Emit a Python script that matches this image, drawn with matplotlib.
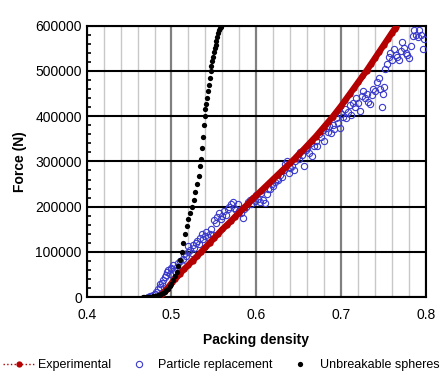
import matplotlib
matplotlib.use('Agg')
import matplotlib.pyplot as plt
import numpy as np
from matplotlib.ticker import MultipleLocator

plt.rcParams['font.family'] = ['Liberation Sans', 'DejaVu Sans']

# Experimental (packing density, force in kN)
exp_x = [0.483, 0.486, 0.489, 0.492, 0.495, 0.498, 0.501, 0.504, 0.507, 0.510,
         0.515, 0.520, 0.525, 0.530, 0.535, 0.540, 0.545, 0.550, 0.555, 0.560,
         0.565, 0.570, 0.575, 0.580, 0.585, 0.590, 0.595, 0.600, 0.605, 0.610,
         0.615, 0.620, 0.625, 0.630, 0.635, 0.640, 0.645, 0.650, 0.655, 0.660,
         0.665, 0.670, 0.675, 0.680, 0.685, 0.690, 0.695, 0.700, 0.705, 0.710,
         0.715, 0.720, 0.725, 0.730, 0.735, 0.740, 0.745, 0.750, 0.755, 0.760,
         0.763, 0.765]
exp_k = [0, 2, 7, 13, 19, 26, 33, 40, 46, 52,
         62, 71, 81, 90, 100, 110, 120, 130, 140, 150,
         159, 168, 178, 187, 197, 206, 216, 225, 234, 243,
         252, 261, 270, 279, 288, 297, 306, 316, 325, 335,
         345, 355, 366, 377, 388, 399, 411, 423, 436, 449,
         462, 475, 488, 501, 515, 529, 543, 557, 571, 585,
         593, 598]

# Particle replacement
pr_x = [0.472, 0.475, 0.478, 0.480, 0.482, 0.484, 0.486, 0.487, 0.489, 0.490,
        0.492, 0.493, 0.495, 0.496, 0.498, 0.499, 0.500,
        0.502, 0.504, 0.506, 0.508, 0.510, 0.512, 0.514, 0.515, 0.517, 0.519,
        0.520, 0.522, 0.524, 0.525, 0.527, 0.529, 0.530, 0.532, 0.534, 0.536,
        0.537, 0.539, 0.541, 0.543, 0.545, 0.547, 0.549,
        0.550, 0.552, 0.554, 0.556, 0.558, 0.560, 0.562, 0.564, 0.566, 0.568,
        0.570, 0.572, 0.574, 0.576, 0.578, 0.580, 0.582, 0.584, 0.586, 0.588,
        0.590, 0.592, 0.594, 0.596, 0.598,
        0.600, 0.602, 0.604, 0.606, 0.608, 0.610, 0.612, 0.614, 0.616, 0.618,
        0.620, 0.622, 0.624, 0.626, 0.628, 0.630, 0.632, 0.634, 0.636, 0.638,
        0.640, 0.642, 0.644, 0.646, 0.648,
        0.650, 0.652, 0.654, 0.656, 0.658, 0.660, 0.662, 0.664, 0.666, 0.668,
        0.670, 0.672, 0.674, 0.676, 0.678, 0.680, 0.682, 0.684, 0.686, 0.688,
        0.690, 0.692, 0.694, 0.696, 0.698,
        0.700, 0.702, 0.704, 0.706, 0.708, 0.710, 0.712, 0.714, 0.716, 0.718,
        0.720, 0.722, 0.724, 0.726, 0.728, 0.730, 0.732, 0.734, 0.736, 0.738,
        0.740, 0.742, 0.744, 0.746, 0.748, 0.749,
        0.750, 0.752, 0.754, 0.756, 0.758, 0.760, 0.762, 0.764, 0.766, 0.768,
        0.770, 0.772, 0.774, 0.776, 0.778, 0.780, 0.782, 0.784, 0.786, 0.788,
        0.790, 0.792, 0.794, 0.796, 0.798]
pr_k = [0, 2, 5, 8, 12, 18, 22, 28, 32, 38,
        45, 50, 55, 60, 52, 65, 62,
        70, 58, 66, 75, 80, 72, 85, 95, 90, 100,
        112, 105, 98, 115, 108, 120, 125, 118, 130, 140,
        128, 135, 145, 132, 140, 150, 138,
        170, 165, 178, 185, 172, 180, 190, 182, 195, 200,
        205, 210, 198, 192, 205, 190, 185, 175, 195, 200,
        210, 215, 205, 220, 212,
        225, 218, 210, 230, 215, 208, 228, 240, 238, 250,
        245, 255, 262, 258, 270, 265, 280, 295, 300, 275,
        285, 290, 280, 300, 310,
        305, 320, 315, 290, 325, 330, 318, 340, 312, 335,
        345, 335, 360, 355, 370, 345, 375, 365, 378, 362,
        380, 372, 395, 385, 375,
        405, 398, 415, 395, 410, 425, 402, 430, 420, 440,
        430, 412, 445, 455, 440, 450, 432, 428, 448, 460,
        455, 475, 485, 460, 420, 450,
        465, 505, 515, 530, 540, 525, 548, 535, 530, 525,
        545, 565, 550, 540, 535, 528, 555, 578, 590, 580,
        575, 590, 580, 548, 570]

# Unbreakable spheres
ub_x = [0.466, 0.468, 0.470, 0.472, 0.474, 0.476, 0.478, 0.480, 0.482, 0.484,
        0.486, 0.488, 0.490, 0.492, 0.494, 0.496, 0.498, 0.500, 0.502, 0.504,
        0.506, 0.508, 0.510, 0.512, 0.514, 0.516, 0.518, 0.520, 0.522, 0.524,
        0.526, 0.528, 0.530, 0.532, 0.534, 0.535, 0.536, 0.537, 0.538, 0.539,
        0.540, 0.541, 0.542, 0.543, 0.544, 0.545, 0.546, 0.547, 0.548, 0.549,
        0.550, 0.551, 0.552, 0.553, 0.554, 0.555, 0.556, 0.557, 0.558]
ub_k = [0, 0, 0, 0, 0, 1, 1.5, 2, 3, 4,
        5, 7, 9, 12, 15, 19, 24, 30, 37, 46,
        56, 68, 82, 100, 119, 140, 158, 172, 186, 200,
        215, 232, 250, 268, 290, 305, 330, 355, 380, 400,
        415, 428, 440, 455, 470, 485, 500, 512, 522, 532,
        542, 550, 558, 566, 575, 585, 590, 595, 598]

exp_y = np.array(exp_k) * 1000
pr_y = np.array(pr_k) * 1000
ub_y = np.array(ub_k) * 1000

fig = plt.figure(figsize=(4.42, 3.79), dpi=100)
ax = fig.add_axes([0.196, 0.216, 0.768, 0.716])

red = '#b40000'
h2, = ax.plot(pr_x, pr_y, 'o', mfc='none', mec='#3a3acc', ms=4.5, mew=0.8,
              zorder=3, label='Particle replacement')
# dense measured points merge into a thick band
ax.plot(exp_x, exp_y, '-', color=red, lw=4.5, solid_capstyle='round', zorder=4)
h1, = ax.plot(exp_x, exp_y, ':', color=red, marker='o', ms=4.5, mew=0,
              lw=1, zorder=4, label='Experimental')
h3, = ax.plot(ub_x, ub_y, 'o', color='black', ms=3.8, mew=0, zorder=5,
              label='Unbreakable spheres')

ax.set_xlim(0.4, 0.8)
ax.set_ylim(0, 600000)
ax.set_xticks([0.4, 0.5, 0.6, 0.7, 0.8])
ax.set_xticklabels(['0.4', '0.5', '0.6', '0.7', '0.8'])
ax.xaxis.set_minor_locator(MultipleLocator(0.02))
ax.yaxis.set_major_locator(MultipleLocator(100000))
ax.yaxis.set_minor_locator(MultipleLocator(20000))

ax.grid(True, which='minor', axis='x', color='#c8c8c8', lw=1)
ax.grid(True, which='major', axis='x', color='#808080', lw=1.6)
ax.grid(True, which='major', axis='y', color='black', lw=1.5)
ax.set_axisbelow(True)

ax.tick_params(axis='x', which='both', length=0, labelsize=10, pad=8)
ax.tick_params(axis='y', which='major', direction='in', length=4, width=1.2,
               labelsize=10)
ax.tick_params(axis='y', which='minor', direction='in', length=3, width=1.2)
for s in ax.spines.values():
    s.set_linewidth(1.5)

ax.set_xlabel('Packing density', fontsize=10, fontweight='bold', labelpad=8)
ax.set_ylabel('Force (N)', fontsize=10, fontweight='bold', labelpad=6)

fig.legend(handles=[h1, h2, h3], loc='center', bbox_to_anchor=(0.5, 0.037),
           ncol=3, frameon=False, fontsize=9, handlelength=2.6,
           handletextpad=0.25, columnspacing=0.9, borderpad=0.1)

fig.savefig('out.png', dpi=100)
